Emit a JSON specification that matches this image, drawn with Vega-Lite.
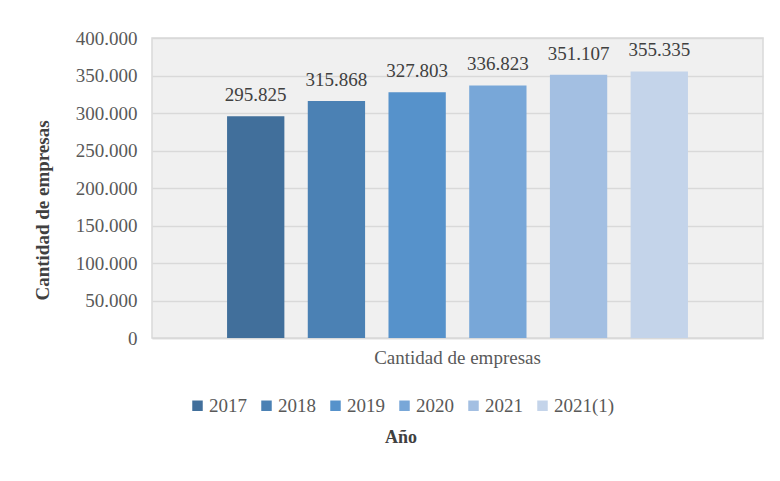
{
  "$schema": "https://vega.github.io/schema/vega-lite/v6.json",
  "width": 611,
  "height": 300,
  "autosize": {"type": "none"},
  "padding": {"left": 152, "top": 38, "right": 17, "bottom": 143},
  "background": "white",
  "config": {
    "locale": {"number": {"decimal": ",", "thousands": ".", "grouping": [3], "currency": ["$", ""]}},
    "font": "Liberation Serif",
    "view": {"fill": "#f0f0f0", "stroke": "#d9d9d9", "strokeWidth": 1.5}
  },
  "data": {
    "values": [
      {"cat": "Cantidad de empresas", "year": "2017", "value": 295825},
      {"cat": "Cantidad de empresas", "year": "2018", "value": 315868},
      {"cat": "Cantidad de empresas", "year": "2019", "value": 327803},
      {"cat": "Cantidad de empresas", "year": "2020", "value": 336823},
      {"cat": "Cantidad de empresas", "year": "2021", "value": 351107},
      {"cat": "Cantidad de empresas", "year": "2021(1)", "value": 355335}
    ]
  },
  "encoding": {
    "x": {
      "field": "cat", "type": "nominal",
      "scale": {"paddingInner": 0, "paddingOuter": 0},
      "axis": {
        "title": null, "labelAngle": 0, "ticks": false, "domain": true,
        "domainColor": "#d9d9d9", "domainWidth": 1.5,
        "labelFont": "Liberation Serif", "labelFontSize": 19, "labelColor": "#595959",
        "labelPadding": 10
      }
    },
    "xOffset": {
      "field": "year", "type": "nominal",
      "scale": {"paddingInner": 0.29, "paddingOuter": 0.93}
    },
    "y": {
      "field": "value", "type": "quantitative",
      "scale": {"domain": [0, 400000]},
      "axis": {
        "title": "Cantidad de empresas",
        "titleFont": "Liberation Serif", "titleFontSize": 19, "titleFontWeight": "bold",
        "titleColor": "#404040",
        "titleX": -104, "titleY": 172, "titleAngle": -90, "titleAlign": "center", "titleBaseline": "alphabetic",
        "values": [0, 50000, 100000, 150000, 200000, 250000, 300000, 350000, 400000],
        "format": ",.0f",
        "labelFont": "Liberation Serif", "labelFontSize": 19, "labelColor": "#595959",
        "labelPadding": 15,
        "ticks": false, "domain": false,
        "grid": true, "gridColor": "#d9d9d9", "gridWidth": 1.5
      }
    }
  },
  "layer": [
    {
      "mark": {"type": "bar"},
      "encoding": {
        "color": {
          "field": "year", "type": "nominal",
          "scale": {
            "domain": ["2017", "2018", "2019", "2020", "2021", "2021(1)"],
            "range": ["#416f9b", "#4b81b4", "#5692cb", "#78a7d8", "#a3bfe2", "#c4d4ea"]
          },
          "legend": {
            "title": "Año",
            "orient": "none",
            "legendX": 36,
            "legendY": 358,
            "direction": "horizontal",
            "titleOrient": "bottom",
            "titleAnchor": "middle",
            "titleFont": "Liberation Serif", "titleFontSize": 18, "titleFontWeight": "bold",
            "titleColor": "#404040", "titlePadding": 13,
            "symbolType": "square", "symbolSize": 110, "symbolStrokeWidth": 0,
            "labelFont": "Liberation Serif", "labelFontSize": 19, "labelColor": "#595959",
            "labelOffset": 2, "columnPadding": 10
          }
        }
      }
    },
    {
      "mark": {"type": "text", "baseline": "alphabetic", "dy": -15, "font": "Liberation Serif", "fontSize": 19, "color": "#404040"},
      "encoding": {
        "text": {"field": "value", "type": "quantitative", "format": ",.0f"}
      }
    }
  ]
}
